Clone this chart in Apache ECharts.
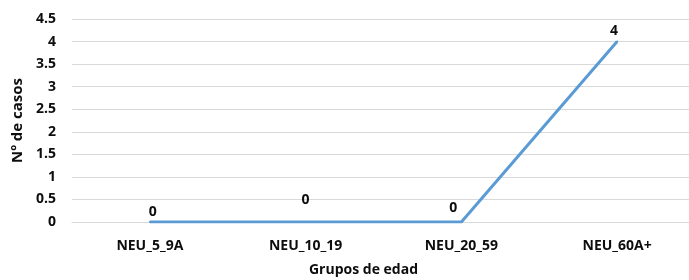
<!DOCTYPE html>
<html>
<head>
<meta charset="utf-8">
<script src="https://cdn.jsdelivr.net/npm/echarts@6/dist/echarts.min.js"></script>
<style>
    html, body { margin: 0; padding: 0; background: #fff; }
    #chart { width: 689px; height: 280px; }
</style>
</head>
<body>
<div id="chart"></div>
<script>
const categories = ["NEU_5_9A", "NEU_10_19", "NEU_20_59", "NEU_60A+"];
const casos = [0, 0, 0, 4];
const yTicks = { min: 0, max: 4.5, interval: 0.5 };

// label placement per point, as in the source chart
const labelOffsets = [[3, 1], [0, -11], [-8, -3], [-3, 0]];

const font = "Open Sans";
let myChart = echarts.init(document.getElementById("chart"));

let option = {
    animation: false,
    textStyle: { fontFamily: font },
    grid: {
        left: 72,
        width: 623,
        top: 19,
        bottom: 58,
        outerBoundsMode: "none"
    },
    xAxis: {
        type: "category",
        data: categories,
        name: "Grupos de edad",
        nameLocation: "middle",
        nameGap: 41,
        nameTextStyle: {
            fontFamily: font,
            fontWeight: "bold",
            fontSize: 14,
            color: "#0d0d0d",
            padding: [0, 40, 0, 0]
        },
        axisLine: { lineStyle: { color: "#d9d9d9", width: 1 } },
        axisTick: { show: false },
        axisLabel: {
            margin: 17,
            fontFamily: font,
            fontWeight: "bold",
            fontSize: 14,
            color: "#0d0d0d"
        }
    },
    yAxis: {
        type: "value",
        min: yTicks.min,
        max: yTicks.max,
        interval: yTicks.interval,
        name: "Nº de casos",
        nameLocation: "middle",
        nameGap: 47,
        nameTextStyle: {
            fontFamily: font,
            fontWeight: "bold",
            fontSize: 15,
            color: "#0d0d0d"
        },
        axisLine: { show: false },
        axisTick: { show: false },
        axisLabel: {
            margin: 16,
            fontFamily: font,
            fontWeight: "bold",
            fontSize: 14,
            color: "#0d0d0d"
        },
        splitLine: { lineStyle: { color: "#d9d9d9", width: 1 } }
    },
    series: [
        {
            type: "line",
            data: casos.map((v, i) => ({
                value: v,
                label: { offset: labelOffsets[i] }
            })),
            showSymbol: true,
            symbol: "circle",
            symbolSize: 2,
            itemStyle: { color: "#5b9bd5" },
            lineStyle: { color: "#5b9bd5", width: 3 },
            label: {
                show: true,
                position: "top",
                distance: 3,
                fontFamily: font,
                fontWeight: "bold",
                fontSize: 14,
                color: "#0d0d0d"
            }
        }
    ]
};

myChart.setOption(option);
</script>
</body>
</html>
